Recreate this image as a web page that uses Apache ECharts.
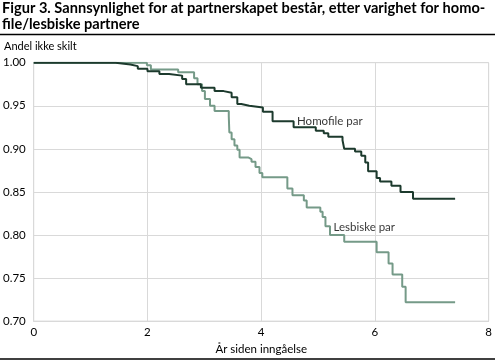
<!DOCTYPE html>
<html>
<head>
<meta charset="utf-8">
<script src="https://cdn.jsdelivr.net/npm/echarts@6/dist/echarts.min.js"></script>
<style>html,body{margin:0;padding:0;background:#fff}#c{width:495px;height:360px}</style>
</head>
<body>
<div id="c"></div>
<script>
const titleText = "Figur 3. Sannsynlighet for at partnerskapet består, etter varighet for homo-\nfile/lesbiske partnere";
const yAxisTitle = "Andel ikke skilt";
const xAxisTitle = "År siden inngåelse";
const xTicks = [0, 2, 4, 6, 8];
const yTicks = [0.70, 0.75, 0.80, 0.85, 0.90, 0.95, 1.00];
const seriesNames = ["Homofile par", "Lesbiske par"];
const labelAnchors = [[4.63, 0.932], [5.27, 0.809]];

const homoX = [0, 1.44, 1.70, 1.83, 2.00, 2.21, 2.38, 2.61, 2.68, 2.94, 3.18, 3.34, 3.48, 3.58, 3.65, 3.79, 4.03, 4.20, 4.57, 4.96, 5.10, 5.18, 5.43, 5.46, 5.65, 5.76, 5.83, 5.88, 6.03, 6.09, 6.29, 6.45, 6.67, 7.41];
const homoY = [1.000, 0.998, 0.996, 0.993, 0.990, 0.987, 0.985, 0.981, 0.975, 0.971, 0.967, 0.965, 0.960, 0.952, 0.950, 0.948, 0.943, 0.932, 0.925, 0.921, 0.918, 0.914, 0.910, 0.900, 0.897, 0.892, 0.884, 0.874, 0.866, 0.862, 0.857, 0.850, 0.842, 0.842];

const lesbX = [0, 1.99, 2.06, 2.54, 2.82, 2.88, 2.96, 3.01, 3.10, 3.18, 3.43, 3.44, 3.48, 3.53, 3.58, 3.62, 3.77, 3.83, 3.90, 3.97, 4.02, 4.46, 4.55, 4.75, 4.80, 5.04, 5.08, 5.13, 5.21, 5.46, 6.03, 6.24, 6.31, 6.48, 6.54, 7.41];
const lesbY = [1.000, 0.997, 0.992, 0.989, 0.982, 0.975, 0.967, 0.958, 0.950, 0.944, 0.938, 0.919, 0.911, 0.904, 0.899, 0.890, 0.888, 0.885, 0.879, 0.872, 0.867, 0.854, 0.846, 0.840, 0.832, 0.827, 0.821, 0.810, 0.800, 0.792, 0.780, 0.767, 0.754, 0.740, 0.722, 0.722];

const FONT = "Lato";
const chart = echarts.init(document.getElementById('c'), null, {renderer: 'canvas'});
const zip = (xs, ys) => xs.map((x, i) => [x, ys[i]]);
const gridColor = '#d9d9d9';

const labelSeries = (name, anchor) => ({
  name: name + ' label', type: 'scatter', symbolSize: 0, silent: true,
  data: [anchor], z: 5,
  label: {show: true, position: 'right', distance: 0, formatter: name,
          fontFamily: FONT, fontSize: 11.5, color: '#000'}
});

chart.setOption({
  animation: false,
  textStyle: {fontFamily: FONT},
  title: {
    text: titleText, left: 2, top: 0, padding: 0,
    textStyle: {fontFamily: FONT, fontWeight: 'bold', fontSize: 14.6, lineHeight: 16, color: '#000'}
  },
  grid: {left: 30, right: 6, top: 62.7, bottom: 31, containLabel: false,
         show: true, borderColor: gridColor, borderWidth: 1},
  xAxis: {
    type: 'value', min: xTicks[0], max: xTicks[xTicks.length - 1], interval: 2,
    name: xAxisTitle, nameLocation: 'middle', nameGap: 21,
    nameTextStyle: {fontFamily: FONT, fontSize: 11.5, color: '#000'},
    axisLine: {show: true, lineStyle: {color: gridColor}},
    axisTick: {show: false},
    splitLine: {show: true, lineStyle: {color: gridColor, width: 1}},
    axisLabel: {fontFamily: FONT, fontSize: 11.5, color: '#000', margin: 5}
  },
  yAxis: {
    type: 'value', min: yTicks[0], max: yTicks[yTicks.length - 1], interval: 0.05,
    axisLine: {show: true, lineStyle: {color: gridColor}},
    axisTick: {show: false},
    splitLine: {show: true, lineStyle: {color: gridColor, width: 1}},
    axisLabel: {fontFamily: FONT, fontSize: 11.5, color: '#000', margin: 8,
                formatter: v => v.toFixed(2)}
  },
  graphic: [
    {type: 'line', shape: {x1: 0, y1: 34.5, x2: 495, y2: 34.5}, style: {stroke: '#000', lineWidth: 1.6}},
    {type: 'line', shape: {x1: 0, y1: 359, x2: 495, y2: 359}, style: {stroke: '#000', lineWidth: 1.6}},
    {type: 'text', left: 4, top: 40.5, style: {text: yAxisTitle, fontFamily: FONT, fontSize: 11, fill: '#000'}}
  ],
  series: [
    {
      name: seriesNames[0], type: 'line', step: 'end', symbol: 'none',
      data: zip(homoX, homoY), z: 3,
      lineStyle: {color: '#1c3a2d', width: 2}
    },
    {
      name: seriesNames[1], type: 'line', step: 'end', symbol: 'none',
      data: zip(lesbX, lesbY), z: 2,
      lineStyle: {color: '#759a88', width: 2}
    },
    labelSeries(seriesNames[0], labelAnchors[0]),
    labelSeries(seriesNames[1], labelAnchors[1])
  ]
});
</script>
</body>
</html>
